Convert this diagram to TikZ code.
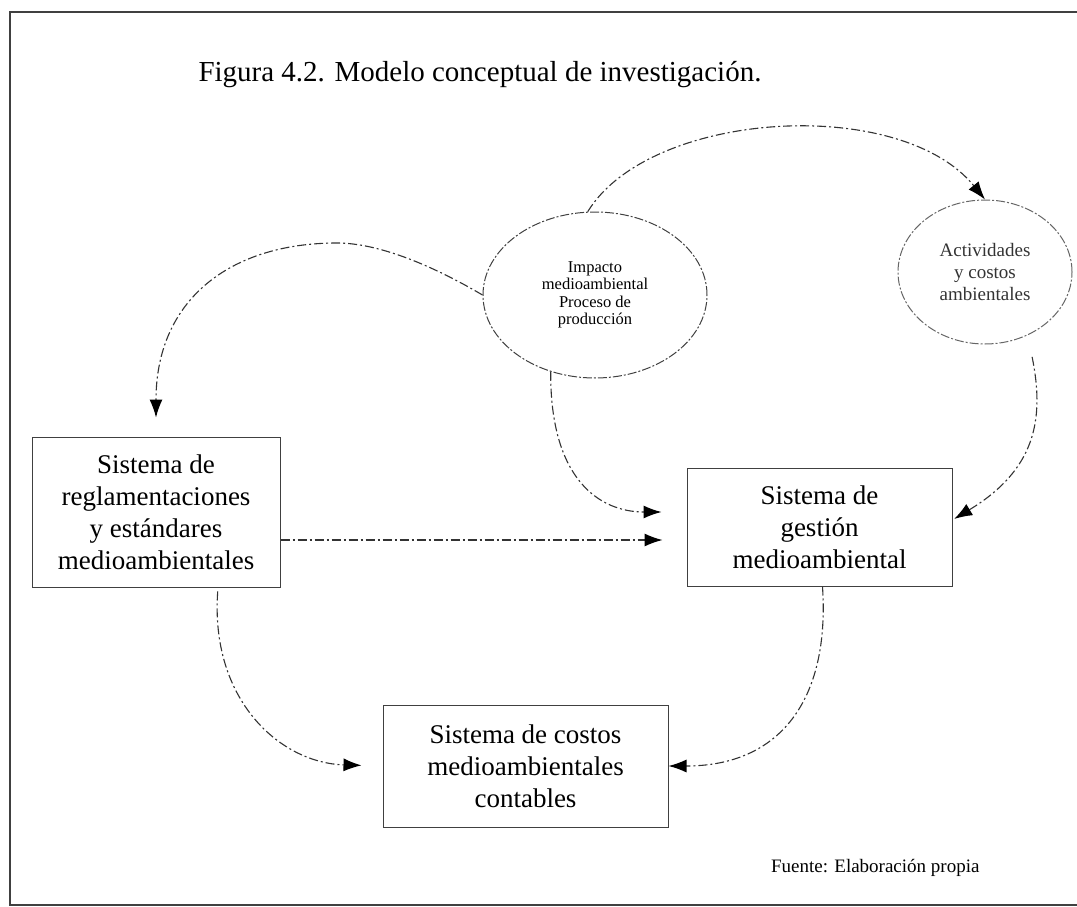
\documentclass[tikz,border=0pt]{standalone}
\usepackage{fontspec}
\setmainfont{Liberation Serif}
\usetikzlibrary{shapes.geometric,arrows.meta}

\begin{document}
\begin{tikzpicture}[x=1pt,y=-1pt,
  conn/.style={draw=black!80, line width=1.1pt,
    dash pattern=on 9pt off 3pt on 2pt off 3pt,
    -{Latex[length=18pt,width=13pt,color=black]}},
  sysbox/.style={rectangle, draw=black!75, line width=1pt, align=center,
    font=\fontsize{27}{32}\selectfont, inner sep=0pt},
  bubble/.style={ellipse, draw=black!75, line width=1pt,
    dash pattern=on 9pt off 2pt on 2pt off 2pt, align=center, inner sep=0pt},
  frameline/.style={draw=black!75, line width=1.2pt}
]
\useasboundingbox (0,0) rectangle (1077,907);

% page frame
\draw[frameline] (1077,12) -- (10,12) -- (10,905) -- (1077,905);

% title and source
\node[font=\fontsize{29}{34}\selectfont] (titulo) at (480,75)
  {Figura 4.2. Modelo conceptual de investigación.};
\node[font=\fontsize{19}{22}\selectfont, anchor=east] (fuente) at (983,868)
  {Fuente: Elaboración propia};

% ellipses
\node[bubble, minimum width=224pt, minimum height=166pt,
  font=\fontsize{16.5}{17.5}\selectfont] (impacto) at (595,295)
  {Impacto\\medioambiental\\Proceso de\\producción};
\node[bubble, draw=black!60, text=black!80, minimum width=174pt, minimum height=144pt,
  font=\fontsize{19}{22}\selectfont] (activ) at (985,272)
  {Actividades\\y costos\\ambientales};

% systems
\node[sysbox, minimum width=248pt, minimum height=150pt] (reglas) at (156,512)
  {Sistema de\\reglamentaciones\\y estándares\\medioambientales};
\node[sysbox, minimum width=265pt, minimum height=118pt] (gestion) at (819.5,527)
  {Sistema de\\gestión\\medioambiental};
\node[sysbox, minimum width=285pt, minimum height=122pt] (costos) at (525.5,766)
  {Sistema de costos\\medioambientales\\contables};

% connectors
\draw[conn] (impacto.95) .. controls (650,110) and (900,95) .. (activ.north);
\draw[conn, shorten >=19pt] (impacto.west) .. controls (435,267) and (380,243) .. (337,243)
  .. controls (230,243) and (156,300) .. (reglas.north);
\draw[conn, shorten >=25pt] (impacto.240) .. controls (550,480) and (600,512) .. ([yshift=15pt]gestion.west);
\draw[conn, shorten >=24pt] ([yshift=-28pt]reglas.east) -- ([yshift=-13pt]gestion.west);
\draw[conn, shorten <=22pt, shorten >=2pt] (activ.304) .. controls (1045,420) and (1035,470) .. ([yshift=7pt]gestion.east);
\draw[conn, shorten <=4pt, shorten >=21pt] ([xshift=62pt]reglas.south) .. controls (210,700) and (280,763) .. (costos.west);
\draw[conn] ([xshift=3pt]gestion.south) .. controls (830,700) and (780,766) .. (costos.east);
\end{tikzpicture}
\end{document}
